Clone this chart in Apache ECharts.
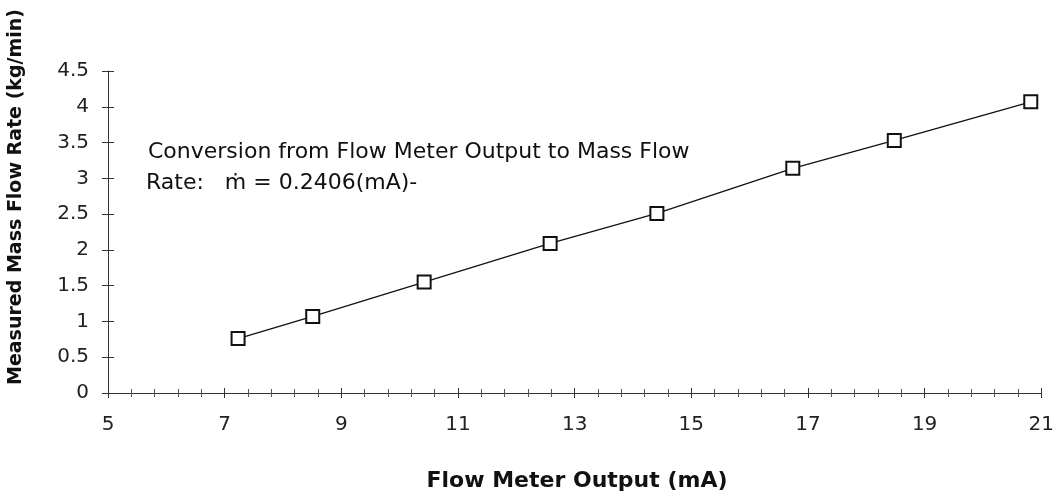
<!DOCTYPE html>
<html><head><meta charset="utf-8">
<script src="https://cdn.jsdelivr.net/npm/echarts@6/dist/echarts.min.js"></script>
<style>html,body{margin:0;padding:0;background:#fff}#c{width:1057px;height:496px}</style>
</head><body><div id="c"></div>
<script>
const flowMeterOutput = [7.23, 8.51, 10.42, 12.58, 14.41, 16.74, 18.48, 20.82];
const massFlowRate   = [0.76, 1.07, 1.55, 2.09, 2.51, 3.14, 3.53, 4.07];
const xTicks = { min: 5, max: 21, interval: 2 };
const yTicks = { min: 0, max: 4.5, interval: 0.5 };
const titleText = 'Conversion from Flow Meter Output to Mass Flow';
const rateText = 'Rate:   ṁ = 0.2406(mA)-';
const xName = 'Flow Meter Output (mA)';
const yName = 'Measured Mass Flow Rate (kg/min)';

const chart = echarts.init(document.getElementById('c'));
const lblFont = { fontFamily: 'DejaVu Sans', fontSize: 20, color: '#222' };
const axisLineStyle = { color: '#333', width: 1 };
chart.setOption({
  animation: false,
  backgroundColor: '#fff',
  grid: { left: 108, right: 13, top: 71, bottom: 103 },
  xAxis: [
    { type: 'value', min: xTicks.min, max: xTicks.max, interval: xTicks.interval,
      axisLine: { show: true, lineStyle: axisLineStyle },
      axisTick: { show: true, length: 5, lineStyle: { color: '#333' } },
      minorTick: { show: true, splitNumber: 5, length: 4, lineStyle: { color: '#555' } },
      splitLine: { show: false },
      axisLabel: Object.assign({ margin: 22 }, lblFont) },
    { type: 'value', min: xTicks.min, max: xTicks.max, interval: xTicks.interval, position: 'bottom',
      axisLine: { show: false },
      axisTick: { show: true, inside: true, length: 5, lineStyle: { color: '#333' } },
      minorTick: { show: true, splitNumber: 5, length: 4, lineStyle: { color: '#555' } },
      splitLine: { show: false }, axisLabel: { show: false } }
  ],
  yAxis: [
    { type: 'value', min: yTicks.min, max: yTicks.max, interval: yTicks.interval,
      axisLine: { show: true, lineStyle: axisLineStyle },
      axisTick: { show: true, length: 6, lineStyle: { color: '#333' } },
      splitLine: { show: false },
      axisLabel: Object.assign({ margin: 19 }, lblFont) },
    { type: 'value', min: yTicks.min, max: yTicks.max, interval: yTicks.interval, position: 'left',
      axisLine: { show: false },
      axisTick: { show: true, inside: true, length: 6, lineStyle: { color: '#333' } },
      splitLine: { show: false }, axisLabel: { show: false } }
  ],
  series: [{
    type: 'line',
    data: flowMeterOutput.map((x, i) => [x, massFlowRate[i]]),
    symbol: 'rect', symbolSize: 13,
    lineStyle: { color: '#111', width: 1.3 },
    itemStyle: { color: '#fff', borderColor: '#111', borderWidth: 2 }
  }],
  graphic: [
    { type: 'text', left: 148, top: 141, style: { text: titleText, fontFamily: 'DejaVu Sans', fontSize: 22, fill: '#111' } },
    { type: 'text', left: 146, top: 172, style: { text: rateText, fontFamily: 'DejaVu Sans', fontSize: 22, fill: '#111' } },
    { type: 'text', x: 577, y: 481,
      style: { text: xName, fontFamily: 'DejaVu Sans', fontWeight: 'bold', fontSize: 22, fill: '#111', align: 'center', verticalAlign: 'middle' } },
    { type: 'text', x: 16, y: 197, rotation: Math.PI / 2,
      style: { text: yName, fontFamily: 'DejaVu Sans', fontWeight: 'bold', fontSize: 19, fill: '#111', align: 'center', verticalAlign: 'middle' } }
  ]
});
</script></body></html>
